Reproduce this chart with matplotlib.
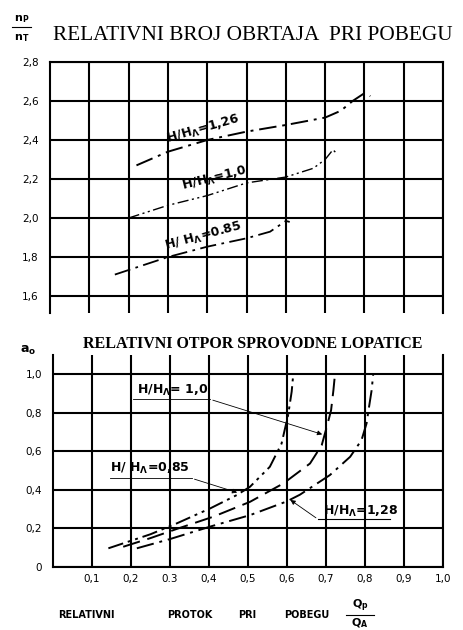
import matplotlib
matplotlib.use("Agg")
import matplotlib.pyplot as plt

# ---------------- 数据 ----------------
# 上图: 相对逃逸转速 nP/nT
q_126 = [0.22, 0.30, 0.40, 0.50, 0.60, 0.70, 0.74, 0.77, 0.80, 0.815]
n_126 = [2.27, 2.34, 2.40, 2.443, 2.477, 2.515, 2.55, 2.60, 2.64, 2.625]
q_100 = [0.20, 0.30, 0.40, 0.50, 0.60, 0.67, 0.70, 0.72, 0.73]
n_100 = [2.00, 2.065, 2.115, 2.18, 2.21, 2.255, 2.30, 2.35, 2.33]
q_085 = [0.165, 0.30, 0.40, 0.50, 0.56, 0.60, 0.61]
n_085 = [1.71, 1.80, 1.853, 1.896, 1.93, 1.985, 1.98]

# 下图: 导叶相对开度 a0
x_085 = [0.142, 0.25, 0.317, 0.403, 0.471, 0.505, 0.556, 0.586, 0.603, 0.612, 0.616]
a_085 = [0.097, 0.17, 0.226, 0.304, 0.373, 0.416, 0.52, 0.64, 0.79, 0.91, 1.0]
x_100 = [0.18, 0.25, 0.321, 0.411, 0.505, 0.591, 0.659, 0.689, 0.702, 0.713, 0.719, 0.723]
a_100 = [0.105, 0.15, 0.20, 0.261, 0.338, 0.434, 0.537, 0.632, 0.727, 0.813, 0.917, 1.0]
x_128 = [0.215, 0.30, 0.407, 0.505, 0.599, 0.633, 0.71, 0.762, 0.791, 0.804, 0.809, 0.817, 0.821]
a_128 = [0.097, 0.145, 0.212, 0.269, 0.34, 0.375, 0.477, 0.572, 0.658, 0.745, 0.813, 0.917, 1.0]

top_yticks = [1.6, 1.8, 2.0, 2.2, 2.4, 2.6, 2.8]
top_ylabels = ["1,6", "1,8", "2,0", "2,2", "2,4", "2,6", "2,8"]
bot_yticks = [0, 0.2, 0.4, 0.6, 0.8, 1.0]
bot_ylabels = ["0", "0,2", "0,4", "0,6", "0,8", "1,0"]
xticks = [0.1, 0.2, 0.3, 0.4, 0.5, 0.6, 0.7, 0.8, 0.9, 1.0]
xlabels = ["0,1", "0,2", "0.3", "0,4", "0,5", "0,6", "0,7", "0,8", "0,9", "1,0"]

xlabel_words = ["RELATIVNI", "PROTOK", "PRI", "POBEGU"]
xlabel_pos = [86, 190, 247, 307]   # 各词中心 (像素)

DASHDOT = (0, (9, 3, 1.5, 3))
DASHDOTDOT = (0, (8, 2.5, 1.5, 2.5, 1.5, 2.5))
LONGDASH = (0, (9, 4))
TICKFONT = dict(family="DejaVu Sans", size=7.5)
LABELFONT = dict(family="DejaVu Sans", weight="bold", size=9)

fig = plt.figure(figsize=(4.63, 6.30), dpi=100)


def style_axes(ax):
    ax.set_xlim(0, 1.0)
    ax.grid(True, color="black", linewidth=1.5)
    ax.set_axisbelow(True)
    for s in ax.spines.values():
        s.set_linewidth(1.5)
    ax.tick_params(length=0)


# ---- 上图 ----
ax1 = fig.add_axes([50 / 463, 1 - 313 / 630, 393 / 463, 251 / 630])
style_axes(ax1)
ax1.set_ylim(1.513, 2.8)
ax1.set_xticks([0.1 * i for i in range(1, 11)])
ax1.set_xticklabels([])
ax1.set_yticks(top_yticks)
ax1.set_yticklabels(top_ylabels, **TICKFONT)
ax1.tick_params(axis="y", pad=8)
ax1.spines["bottom"].set_visible(False)

ax1.plot(q_126, n_126, color="black", lw=1.4, ls=DASHDOT)
ax1.plot(q_100, n_100, color="black", lw=1.0, ls=DASHDOTDOT)
ax1.plot(q_085, n_085, color="black", lw=1.3, ls=DASHDOT)

ax1.text(0.39, 2.455, r"H/H$_\mathbf{\Lambda}$=1,26", rotation=16,
         ha="center", va="center", **LABELFONT)
ax1.text(0.42, 2.20, r"H/H$_\mathbf{\Lambda}$=1,0", rotation=14,
         ha="center", va="center", **LABELFONT)
ax1.text(0.39, 1.905, r"H/ H$_\mathbf{\Lambda}$=0.85", rotation=15,
         ha="center", va="center", **LABELFONT)

# ---- 下图 ----
ax2 = fig.add_axes([53 / 463, 63 / 630, 390 / 463, 212 / 630])
style_axes(ax2)
ax2.set_ylim(0, 1.1)
ax2.set_xticks(xticks)
ax2.set_xticklabels(xlabels, **TICKFONT)
ax2.set_yticks(bot_yticks)
ax2.set_yticklabels(bot_ylabels, **TICKFONT)
ax2.tick_params(axis="y", pad=8)
ax2.tick_params(axis="x", pad=5)
ax2.spines["top"].set_visible(False)

ax2.plot(x_085, a_085, color="black", lw=1.4, ls=DASHDOTDOT)
ax2.plot(x_100, a_100, color="black", lw=1.4, ls=LONGDASH)
ax2.plot(x_128, a_128, color="black", lw=1.4, ls=DASHDOT)

# 标注及引线
arrow = dict(arrowstyle="-|>", color="black", lw=0.6, mutation_scale=7)
ax2.text(0.215, 0.915, r"H/H$_\mathbf{\Lambda}$= 1,0", ha="left", va="center", **LABELFONT)
ax2.plot([0.205, 0.403], [0.87, 0.87], color="black", lw=0.6)
ax2.annotate("", xy=(0.697, 0.684), xytext=(0.403, 0.87), arrowprops=arrow)

ax2.text(0.146, 0.51, r"H/ H$_\mathbf{\Lambda}$=0,85", ha="left", va="center", **LABELFONT)
ax2.plot([0.146, 0.356], [0.46, 0.46], color="black", lw=0.6)
ax2.annotate("", xy=(0.479, 0.382), xytext=(0.356, 0.46), arrowprops=arrow)

ax2.text(0.692, 0.29, r"H/H$_\mathbf{\Lambda}$=1,28", ha="left", va="center", **LABELFONT)
ax2.plot([0.68, 0.864], [0.247, 0.247], color="black", lw=0.8)
ax2.annotate("", xy=(0.603, 0.356), xytext=(0.68, 0.247), arrowprops=arrow)

# ---- 标题与轴标签 ----
fig.text(53 / 463, 0.9435, "RELATIVNI BROJ OBRTAJA  PRI POBEGU",
         family="Liberation Serif", size=15.3, ha="left", va="center")
fig.text(0.046, 0.969, r"$\mathbf{n_P}$", family="DejaVu Sans", size=8, ha="center", va="center")
fig.add_artist(plt.Line2D([0.026, 0.066], [0.957, 0.957], color="black", lw=0.8))
fig.text(0.046, 0.939, r"$\mathbf{n_T}$", family="DejaVu Sans", size=8, ha="center", va="center")

fig.text(0.545, 0.454, "RELATIVNI OTPOR SPROVODNE LOPATICE",
         family="Liberation Serif", weight="bold", size=11.5, ha="center", va="center")
fig.text(0.06, 0.444, r"$\mathbf{a_o}$", family="DejaVu Sans", size=9, ha="center", va="center")

for word, px in zip(xlabel_words, xlabel_pos):
    fig.text(px / 463, 0.024, word, family="DejaVu Sans", weight="bold", size=7,
             ha="center", va="center")
fig.text(0.778, 0.038, r"$\mathbf{Q_p}$", family="DejaVu Sans", size=8, ha="center", va="center")
fig.add_artist(plt.Line2D([0.748, 0.808], [0.0245, 0.0245], color="black", lw=0.8))
fig.text(0.778, 0.011, r"$\mathbf{Q_A}$", family="DejaVu Sans", size=8, ha="center", va="center")

fig.savefig("out.png", dpi=100)
